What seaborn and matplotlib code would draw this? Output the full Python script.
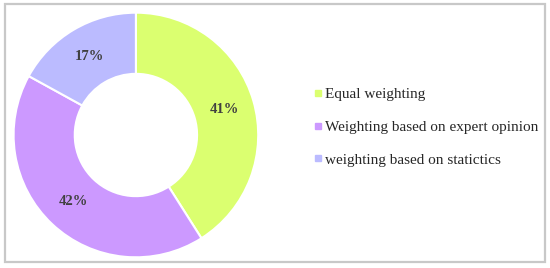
import matplotlib
matplotlib.use("Agg")
import matplotlib.pyplot as plt
import seaborn as sns
from matplotlib.patches import Rectangle
from matplotlib.lines import Line2D

sns.set_theme(style="white")
plt.rcParams['font.family'] = ['Liberation Serif', 'DejaVu Serif']

# data
categories = ["Equal weighting", "Weighting based on expert opinion", "weighting based on statictics"]
shares = [41, 42, 17]
colors = ["#dbff70", "#cc99ff", "#bbbbff"]

fig = plt.figure(figsize=(5.5, 2.68), dpi=100)

# grey frame around the figure
fig.add_artist(Rectangle((5 / 550, 6 / 268), 540 / 550, 258 / 268, transform=fig.transFigure,
                         fill=False, edgecolor="#c8c8c8", linewidth=1.6))

ax = fig.add_axes([0.0236, 0.0373, 0.447, 0.918])
wedges, texts, autotexts = ax.pie(shares, colors=colors, startangle=90, counterclock=False,
                                  autopct="%d%%", pctdistance=0.75,
                                  wedgeprops=dict(width=0.5, edgecolor="white", linewidth=1.5),
                                  textprops=dict(fontsize=10.5, fontweight="bold", color="#404040"))
ax.set_xlim(-1.005, 1.005)
ax.set_ylim(-1.005, 1.005)
ax.set_aspect("equal")

# legend with small square markers
handles = [Line2D([], [], marker="s", linestyle="", markersize=4.5, markerfacecolor=c,
                  markeredgecolor=c) for c in colors]
leg = fig.legend(handles, categories, loc="upper left", bbox_to_anchor=(0.558, 0.702),
                 frameon=False, fontsize=11, labelspacing=1.25, handlelength=0.5,
                 handletextpad=0.2, borderpad=0)

fig.savefig("out.png", dpi=100)
